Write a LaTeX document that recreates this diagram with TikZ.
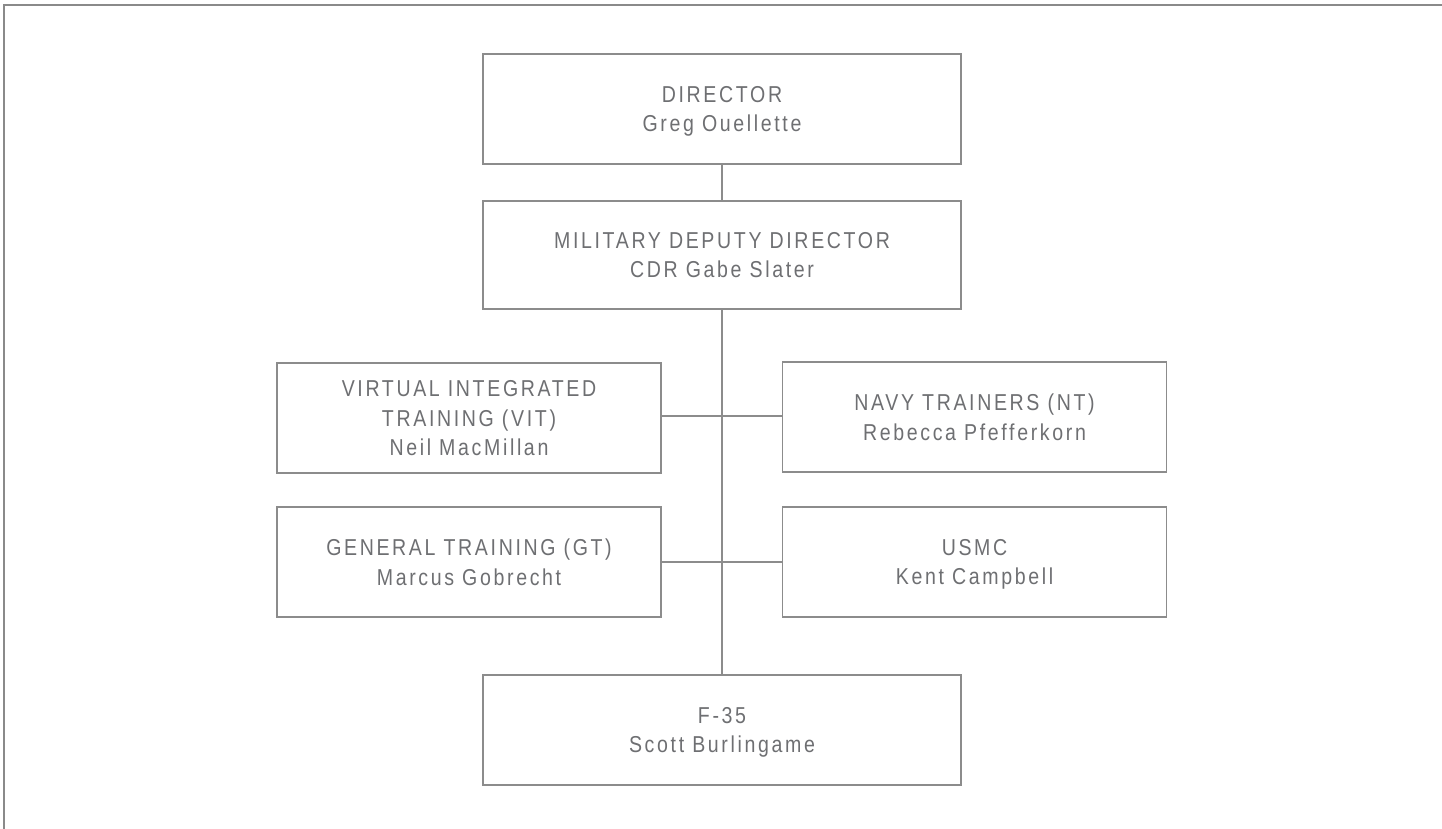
\documentclass[tikz,border=0pt]{standalone}
\usepackage{fontspec}
\setmainfont{Liberation Sans}[FakeStretch=0.85,LetterSpace=11.5]
\definecolor{txt}{HTML}{6E6F72}
\definecolor{edge}{HTML}{8C8C8C}
\definecolor{frame}{HTML}{8A8A8A}
\begin{document}
\begin{tikzpicture}[x=1pt,y=-1pt,
  orgbox/.style={draw=edge,line width=1.4pt,fill=white,text=txt,align=center,
    inner sep=0pt,text depth=0pt,font=\fontsize{23}{29.5}\selectfont},
  wide/.style={orgbox,minimum width=478pt,minimum height=110pt},
  side/.style={orgbox,minimum width=384pt,minimum height=110pt},
  link/.style={draw=edge,line width=1.4pt}]
\useasboundingbox (0,0) rectangle (1442,829);
\draw[frame,line width=2pt] (1442,5) -- (4,5) -- (4,829);
\node[wide] (dir) at (722,109) {DIRECTOR\\Greg Ouellette};
\node[wide,minimum height=108pt] (mdd) at (722,255) {MILITARY DEPUTY DIRECTOR\\CDR Gabe Slater};
\node[side] (vit) at (469,418) {VIRTUAL INTEGRATED\\TRAINING (VIT)\\Neil MacMillan};
\node[side] (nt) at (974.5,417) {NAVY TRAINERS (NT)\\Rebecca Pfefferkorn};
\node[side] (gt) at (469,562) {GENERAL TRAINING (GT)\\Marcus Gobrecht};
\node[side] (usmc) at (974.5,562) {USMC\\Kent Campbell};
\node[wide] (f35) at (722,730) {F-35\\Scott Burlingame};
\coordinate (j1) at (722,416);
\coordinate (j2) at (722,562);
\draw[link] (dir.south) -- (mdd.north);
\draw[link] (mdd.south) -- (f35.north);
\draw[link] (vit.east |- j1) -- (j1) -- (nt.west |- j1);
\draw[link] (gt.east |- j2) -- (j2) -- (usmc.west |- j2);
\end{tikzpicture}
\end{document}
